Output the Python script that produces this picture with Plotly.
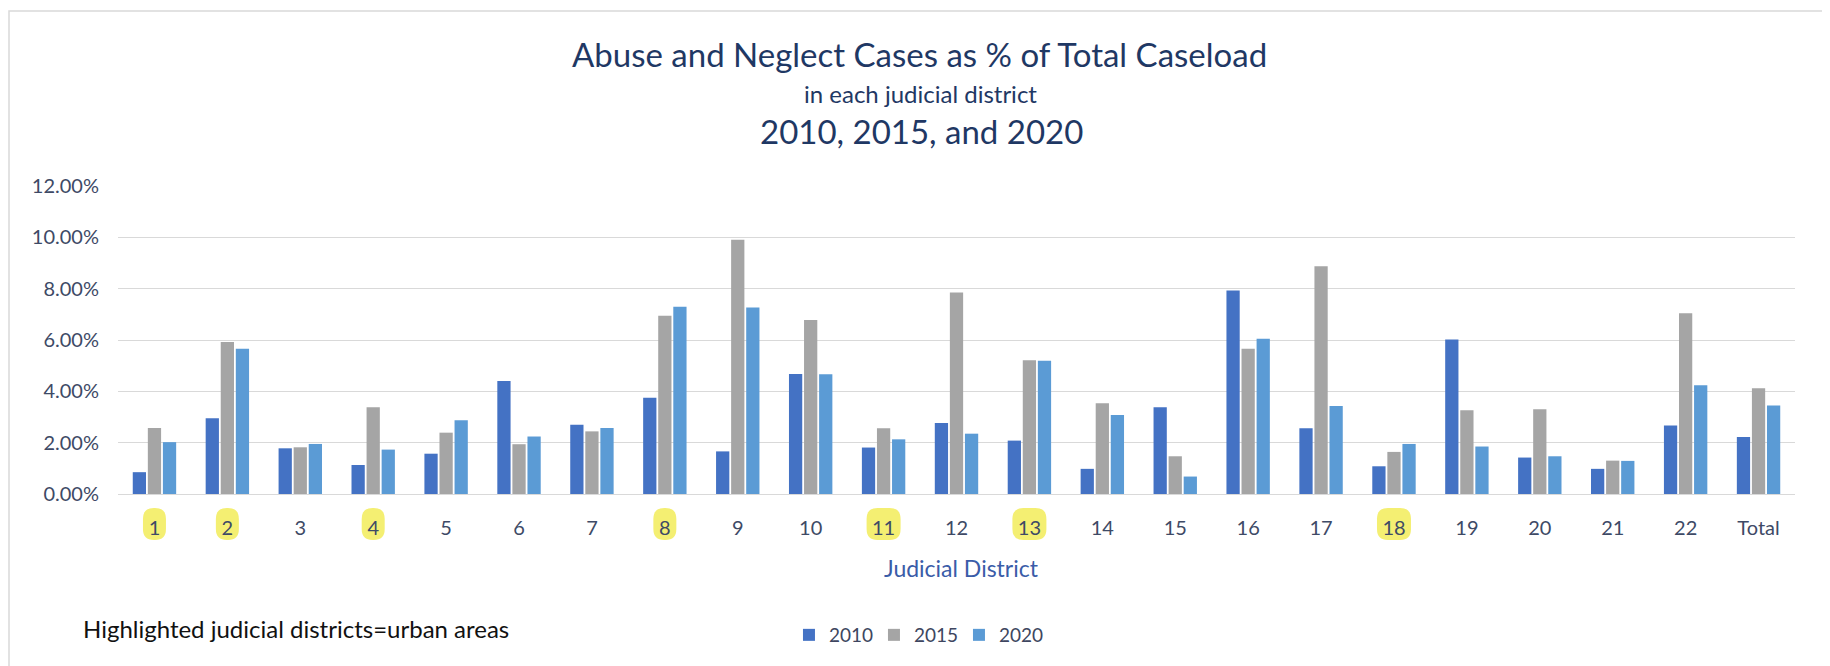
import plotly.graph_objects as go

districts = ["1", "2", "3", "4", "5", "6", "7", "8", "9", "10", "11", "12",
             "13", "14", "15", "16", "17", "18", "19", "20", "21", "22", "Total"]
pct_2010 = [0.85, 2.95, 1.78, 1.13, 1.57, 4.40, 2.70, 3.75, 1.66, 4.68, 1.81, 2.77,
            2.08, 0.98, 3.38, 7.93, 2.56, 1.08, 6.02, 1.42, 0.98, 2.67, 2.22]
pct_2015 = [2.57, 5.92, 1.82, 3.38, 2.39, 1.94, 2.44, 6.94, 9.91, 6.78, 2.56, 7.85,
            5.21, 3.54, 1.47, 5.66, 8.87, 1.64, 3.26, 3.30, 1.30, 7.04, 4.12]
pct_2020 = [2.02, 5.66, 1.95, 1.73, 2.87, 2.24, 2.57, 7.30, 7.27, 4.67, 2.13, 2.35,
            5.19, 3.08, 0.68, 6.05, 3.43, 1.95, 1.85, 1.47, 1.29, 4.24, 3.45]
urban_districts = ["1", "2", "4", "8", "11", "13", "18"]
y_ticks = [0, 2, 4, 6, 8, 10, 12]

FONT = "Lato"
NAVY = "#1f3864"
TICK = "#3e4a66"

fig = go.Figure()
series = [("2010", pct_2010, "#4472c4"),
          ("2015", pct_2015, "#a5a5a5"),
          ("2020", pct_2020, "#5b9bd5")]
for name, vals, col in series:
    fig.add_trace(go.Bar(name=name, x=districts, y=vals, marker_color=col,
                         marker_line_width=0))


def rrect(w, h, r):
    x0, x1, y0, y1 = -w / 2, w / 2, -h / 2, h / 2
    return (f"M{x0+r},{y0} L{x1-r},{y0} Q{x1},{y0} {x1},{y0+r} "
            f"L{x1},{y1-r} Q{x1},{y1} {x1-r},{y1} L{x0+r},{y1} "
            f"Q{x0},{y1} {x0},{y1-r} L{x0},{y0+r} Q{x0},{y0} {x0+r},{y0} Z")


shapes = []
for d in urban_districts:
    w = 23 if len(d) == 1 else 34
    shapes.append(dict(type="path", xref="x", yref="paper",
                       xsizemode="pixel", ysizemode="pixel",
                       xanchor=districts.index(d), yanchor=-0.0974,
                       path=rrect(w, 32, 11), fillcolor="#f4ef72",
                       line_width=0, layer="below"))
# chart border
shapes.append(dict(type="rect", xref="paper", yref="paper",
                   x0=-0.065, x1=1.06, y0=-0.8, y1=1.568,
                   line=dict(color="#d9d9d9", width=1.5), fillcolor="rgba(0,0,0,0)",
                   layer="below"))

annotations = [
    dict(text="Abuse and Neglect Cases as % of Total Caseload", x=0.4782, y=1.4286,
         xref="paper", yref="paper", showarrow=False, xanchor="center", yanchor="middle",
         font=dict(family=FONT, size=33, color=NAVY)),
    dict(text="in each judicial district", x=0.4785, y=1.3003,
         xref="paper", yref="paper", showarrow=False, xanchor="center", yanchor="middle",
         font=dict(family=FONT, size=24, color=NAVY)),
    dict(text="2010, 2015, and 2020", x=0.4791, y=1.1786,
         xref="paper", yref="paper", showarrow=False, xanchor="center", yanchor="middle",
         font=dict(family=FONT, size=33, color=NAVY)),
    dict(text="Judicial District", x=0.5027, y=-0.240,
         xref="paper", yref="paper", showarrow=False, xanchor="center", yanchor="middle",
         font=dict(family=FONT, size=23, color="#3a5ca8")),
    dict(text="Highlighted judicial districts=urban areas", x=-0.0221, y=-0.4383,
         xref="paper", yref="paper", showarrow=False, xanchor="left", yanchor="middle",
         font=dict(family=FONT, size=24, color="#111111")),
]

fig.update_layout(
    width=1822, height=658,
    margin=dict(l=110, r=35, t=178, b=172),
    paper_bgcolor="white", plot_bgcolor="white",
    barmode="group", bargap=0.38, bargroupgap=0.12,
    font=dict(family=FONT, color=TICK),
    shapes=shapes, annotations=annotations,
    legend=dict(orientation="h", x=0.4001, xanchor="left", y=-0.4578, yanchor="middle",
                font=dict(family=FONT, size=19, color="#3e4660"),
                itemwidth=30, traceorder="normal",
                entrywidth=40, entrywidthmode="pixels"),
    xaxis=dict(type="category", showgrid=False, showline=False, ticks="",
               tickfont=dict(family=FONT, size=20, color=TICK),
               ticklabelstandoff=20),
    yaxis=dict(range=[0, 12], tickvals=y_ticks, ticktext=[f"{v:.2f}%" for v in y_ticks],
               showgrid=True, gridcolor="#d9d9d9", gridwidth=1,
               zeroline=True, zerolinecolor="#d9d9d9", zerolinewidth=1,
               tickfont=dict(family=FONT, size=20, color=TICK),
               ticklabelstandoff=18),
)

fig.write_html("out.html")
